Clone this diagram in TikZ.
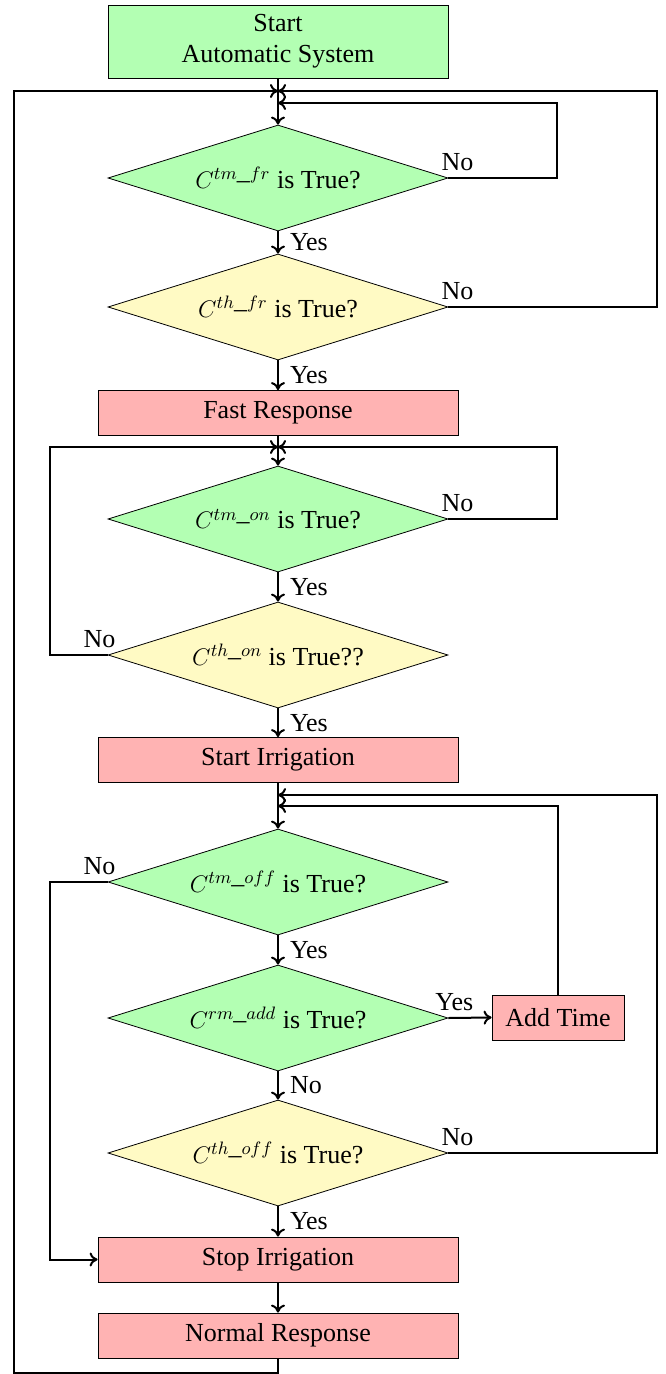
\documentclass[tikz,border=0pt]{standalone}
\usepackage{fontspec}
\setmainfont{Liberation Serif}
\usetikzlibrary{shapes.geometric,arrows.meta}
\definecolor{decGreen}{HTML}{B3FFB3}
\definecolor{decYellow}{HTML}{FFFAC4}
\definecolor{actRed}{HTML}{FFB3B3}

\begin{document}
\begin{tikzpicture}[
        x=0.5pt,
        y=-0.5pt,
        >={To[length=4pt,width=7pt]},
        font=\fontsize{13}{15.6}\selectfont,
        flow/.style={->, line width=1pt},
        decision/.style={diamond, draw, thin, aspect=3.2, inner sep=0pt, minimum width=170pt, minimum height=53pt},
        testtm/.style={decision, fill=decGreen},
        testth/.style={decision, fill=decYellow},
        action/.style={rectangle, draw, thin, fill=actRed, minimum width=180pt, minimum height=22.5pt, inner sep=2pt},
        lbl/.style={inner sep=3pt}
    ]
        \useasboundingbox (0,0) rectangle (665,1374);

        % Bloques del diagrama
        \node[rectangle, draw, thin, fill=decGreen, align=center, minimum width=170pt, minimum height=36.5pt] (start) at (278,41.5) {Start\\Automatic System};
        \node[testtm] (tmfr) at (278,178) {$C^{tm\_fr}$ is True?};
        \node[testth] (thfr) at (278,307) {$C^{th\_fr}$ is True?};
        \node[action] (fast) at (278,413) {Fast Response};
        \node[testtm] (tmon) at (278,519) {$C^{tm\_on}$ is True?};
        \node[testth] (thon) at (278,655) {$C^{th\_on}$ is True??};
        \node[action] (irrOn) at (278,760) {Start Irrigation};
        \node[testtm] (tmoff) at (278,882) {$C^{tm\_off}$ is True?};
        \node[testtm] (rmadd) at (278,1018) {$C^{rm\_add}$ is True?};
        \node[action, minimum width=66pt] (addT) at (558,1017.5) {Add Time};
        \node[testth] (thoff) at (278,1153) {$C^{th\_off}$ is True?};
        \node[action] (irrOff) at (278,1259.5) {Stop Irrigation};
        \node[action] (normal) at (278,1335.5) {Normal Response};

        % Puntos de union y carriles de retorno
        \coordinate (jTop) at (278,91);
        \coordinate (jTopB) at (278,103);
        \coordinate (jMid) at (278,447);
        \coordinate (jLow) at (278,795);
        \coordinate (jLowB) at (278,806);
        \coordinate (laneL) at (14,0);
        \coordinate (laneLi) at (50,0);
        \coordinate (laneR) at (557,0);
        \coordinate (laneRo) at (657,0);

        % Flujo principal
        \draw[flow] (start) -- (tmfr);
        \draw[flow] (tmfr) -- node[lbl, midway, right, xshift=2.5pt] {Yes} (thfr);
        \draw[flow] (thfr) -- node[lbl, midway, right, xshift=2.5pt] {Yes} (fast);
        \draw[flow] (fast) -- (tmon);
        \draw[flow] (tmon) -- node[lbl, midway, right, xshift=2.5pt] {Yes} (thon);
        \draw[flow] (thon) -- node[lbl, midway, right, xshift=2.5pt] {Yes} (irrOn);
        \draw[flow] (irrOn) -- (tmoff);
        \draw[flow] (tmoff) -- node[lbl, midway, right, xshift=2.5pt] {Yes} (rmadd);
        \draw[flow] (rmadd) -- node[lbl, midway, right, xshift=2.5pt] {No} (thoff);
        \draw[flow] (thoff) -- node[lbl, midway, right, xshift=2.5pt] {Yes} (irrOff);
        \draw[flow] (irrOff) -- (normal);
        \draw[flow] (rmadd.east) node[lbl, above, xshift=3pt] {Yes} -- (addT.west);

        % Retornos
        \draw[flow] (normal.south) -- ++(0,15) -| (laneL |- jTop) -- (jTop);
        \draw[flow] (tmfr.east) node[lbl, above, xshift=4.5pt] {No} -| (laneR |- jTopB) -- (jTopB);
        \draw[flow] (thfr.east) node[lbl, above, xshift=4.5pt] {No} -| (laneRo |- jTop) -- (jTop);
        \draw[flow] (tmon.east) node[lbl, above, xshift=4.5pt] {No} -| (laneR |- jMid) -- (jMid);
        \draw[flow] (thon.west) node[lbl, above, xshift=-4pt] {No} -| (laneLi |- jMid) -- (jMid);
        \draw[flow] (tmoff.west) node[lbl, above, xshift=-4pt] {No} -| (laneLi |- irrOff) -- (irrOff.west);
        \draw[flow] (addT.north) |- (jLowB);
        \draw[flow] (thoff.east) node[lbl, above, xshift=4.5pt] {No} -| (laneRo |- jLow) -- (jLow);
    \end{tikzpicture}
\end{document}
